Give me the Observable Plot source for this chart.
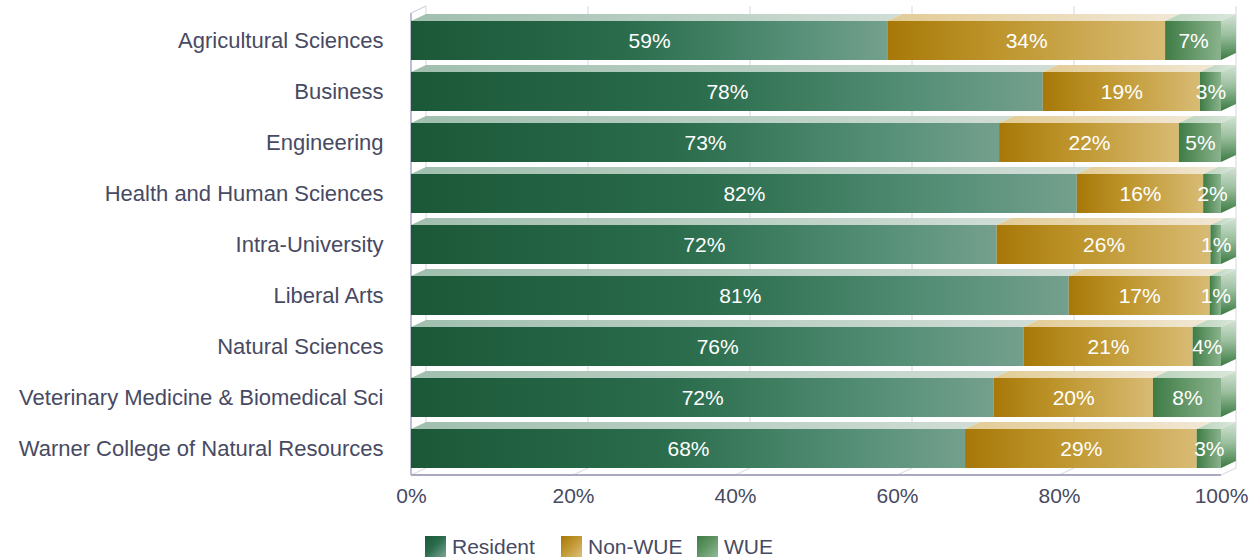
<!DOCTYPE html>
<html><head><meta charset="utf-8">
<script src="https://cdn.jsdelivr.net/npm/d3@7"></script>
<script src="https://cdn.jsdelivr.net/npm/@observablehq/plot@0.6"></script>
<style>
body{margin:0;background:#fff;font-family:"Liberation Sans",Arial,sans-serif;color:#474a62;}
#legend{display:flex;padding-left:425px;margin-top:15px;height:23px;align-items:center;}
.item{width:136px;display:flex;align-items:center;font-size:21px;}
.sw{width:21px;height:21px;margin-right:6px;}
</style></head><body>
<div id="chart"></div>
<div id="legend"></div>
<script>
const colleges = ["Agricultural Sciences","Business","Engineering","Health and Human Sciences","Intra-University","Liberal Arts","Natural Sciences","Veterinary Medicine & Biomedical Sci","Warner College of Natural Resources"];
const resident = [58.8, 78.0, 72.6, 82.2, 72.3, 81.2, 75.6, 71.9, 68.4];
const nonWUE   = [34.3, 19.4, 22.2, 15.6, 26.4, 17.4, 20.9, 19.7, 28.6];
const wue      = [ 6.9,  2.6,  5.2,  2.2,  1.3,  1.4,  3.5,  8.4,  3.0];
const seriesNames = ["Resident","Non-WUE","WUE"];
const seriesKeys = ["res","non","wue"];
const xTicks = [0,20,40,60,80,100];

const seriesValues = [resident, nonWUE, wue];
const rows = [];
colleges.forEach((c, i) => {
  let acc = 0;
  seriesValues.forEach((vals, s) => {
    const v = vals[i];
    rows.push({college: c, series: seriesNames[s], key: seriesKeys[s], value: v, x1: acc, x2: acc + v, last: s === seriesValues.length - 1});
    acc += v;
  });
});

const DX = 15, DY = 7;

function gradDefs(g) {
  const defs = g.append("defs");
  const lin = (id, stops, vertical) => {
    const lg = defs.append("linearGradient").attr("id", id)
      .attr("x1", 0).attr("y1", 0).attr("x2", vertical ? 0 : 1).attr("y2", vertical ? 1 : 0);
    stops.forEach(([o, c]) => lg.append("stop").attr("offset", o).attr("stop-color", c));
  };
  lin("g-res", [[0, "#1b5838"], [0.45, "#2a6c4c"], [0.78, "#528d74"], [1, "#74a08e"]]);
  lin("g-non", [[0, "#a77808"], [0.4, "#be952c"], [1, "#d8bb74"]]);
  lin("g-wue", [[0, "#3f7c45"], [1, "#8ab38d"]]);
  lin("t-res", [[0, "#a0bfae"], [1, "#d0ddd6"]]);
  lin("t-non", [[0, "#e2cb94"], [1, "#f1e8d6"]]);
  lin("t-wue", [[0, "#b8d2bb"], [1, "#dbe8dc"]]);
  lin("s-wue", [[0, "#d3e3d4"], [0.45, "#9cc09f"], [1, "#3b7a43"]], true);
}

function backWall(index, scales, values, dims) {
  const x = scales.x;
  const g = d3.create("svg:g");
  gradDefs(g);
  const top = dims.marginTop - 8, bottom = dims.height - dims.marginBottom;
  for (const t of xTicks) {
    const px = x(t);
    g.append("line").attr("x1", px + DX).attr("x2", px + DX).attr("y1", top).attr("y2", bottom - DY)
      .attr("stroke", "#dddde5").attr("stroke-width", 1.2);
    g.append("line").attr("x1", px + DX).attr("y1", bottom - DY).attr("x2", px).attr("y2", bottom)
      .attr("stroke", "#dddde5").attr("stroke-width", 1.2);
  }
  g.append("line").attr("x1", x(0)).attr("x2", x(0)).attr("y1", dims.marginTop - 1).attr("y2", bottom)
    .attr("stroke", "#a9a9c2").attr("stroke-width", 1.5);
  g.append("line").attr("x1", x(0)).attr("x2", x(0) + DX).attr("y1", dims.marginTop - 1).attr("y2", dims.marginTop - 1 - DY)
    .attr("stroke", "#c9c9d8").attr("stroke-width", 1);
  g.append("line").attr("x1", x(0)).attr("x2", x(100)).attr("y1", bottom).attr("y2", bottom)
    .attr("stroke", "#a9a9c2").attr("stroke-width", 2);
  return g.node();
}

function faces(index, scales, values, dims) {
  const x = scales.x, y = scales.y;
  const bw = y.bandwidth();
  const g = d3.create("svg:g");
  for (const d of rows) {
    const px1 = x(d.x1), px2 = x(d.x2), yt = y(d.college);
    g.append("polygon")
      .attr("points", [[px1, yt], [px2, yt], [px2 + DX, yt - DY], [px1 + DX, yt - DY]].map(p => p.join(",")).join(" "))
      .attr("fill", `url(#t-${d.key})`);
    if (d.last) {
      g.append("polygon")
        .attr("points", [[px2, yt], [px2 + DX, yt - DY], [px2 + DX, yt + bw - DY], [px2, yt + bw]].map(p => p.join(",")).join(" "))
        .attr("fill", "url(#s-wue)");
    }
  }
  return g.node();
}

const chart = Plot.plot({
  width: 1255,
  height: 520,
  marginLeft: 411,
  marginRight: 34,
  marginTop: 14,
  marginBottom: 45,
  style: {fontFamily: "Liberation Sans, Arial, sans-serif", fontSize: "21px", color: "#474a62", background: "#fff"},
  x: {domain: [0, 100], ticks: xTicks, tickFormat: d => d + "%", tickSize: 0, tickPadding: 13, label: null},
  y: {domain: colleges, paddingInner: 0.244, paddingOuter: 0.06, tickSize: 0, tickPadding: 28, label: null},
  color: {domain: seriesNames, range: ["url(#g-res)", "url(#g-non)", "url(#g-wue)"]},
  marks: [
    backWall,
    Plot.barX(rows, {x1: "x1", x2: "x2", y: "college", fill: "series"}),
    faces,
    Plot.axisY({tickSize: 0, tickPadding: 28, fontSize: 22, label: null}),
    Plot.text(rows, {x: d => (d.x1 + d.x2) / 2, y: "college", text: d => Math.round(d.value) + "%", fill: "white", fontSize: 21})
  ]
});
document.getElementById("chart").appendChild(chart);

const swatchCss = {
  "Resident": "linear-gradient(135deg,#1b5838 0%,#2a6c4c 45%,#7aa593 100%)",
  "Non-WUE": "linear-gradient(135deg,#a77808 0%,#c09630 45%,#dcc07c 100%)",
  "WUE": "linear-gradient(135deg,#3f7c45 0%,#5e9463 45%,#93bb96 100%)"
};
const legend = d3.select("#legend");
seriesNames.forEach(n => {
  const it = legend.append("div").attr("class", "item");
  it.append("div").attr("class", "sw").style("background", swatchCss[n]);
  it.append("span").text(n);
});
</script>
</body></html>
